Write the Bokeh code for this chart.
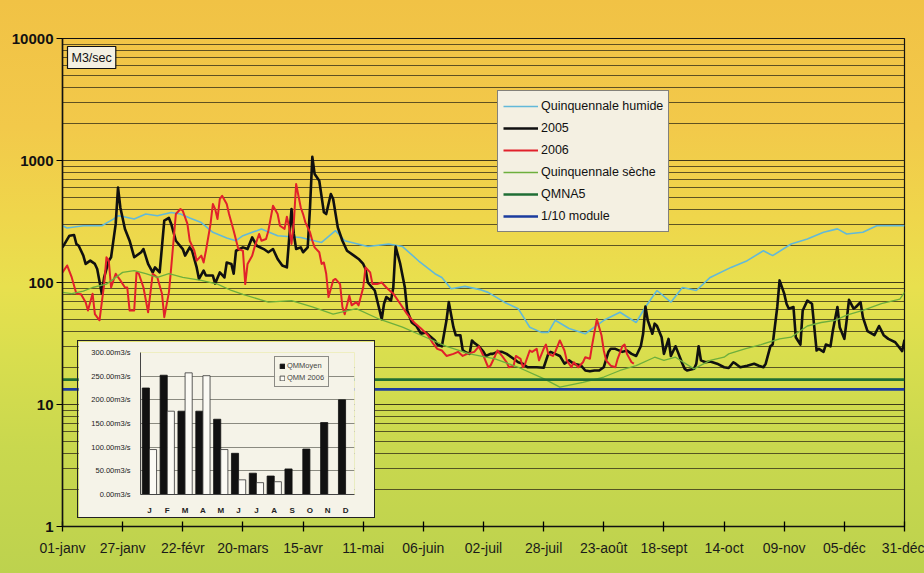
from bokeh.plotting import figure
from bokeh.models import (Range1d, FixedTicker, NumeralTickFormatter, Legend, LegendItem,
                          Label, GlobalInlineStyleSheet, ColumnDataSource, Span)
from bokeh.layouts import column
from bokeh.transform import dodge
from bokeh.embed import file_html
from bokeh.resources import INLINE

# ---------------- data (day of year, m3/s) ----------------
SERIES_2005 = [(0,194),(3,242),(5,245),(6,207),(7,200),(9,166),(10,142),(12,151),(14,142),(15,129),
    (17,81),(18,110),(20,151),(21,161),(23,302),(24,601),(25,412),(27,275),(29,220),(31,161),(34,177),
    (35,188),(37,142),(39,121),(40,133),(42,121),(44,321),(46,338),(47,302),(49,220),(52,188),(53,166),
    (55,194),(56,182),(58,133),(59,107),(61,125),(62,114),(65,114),(66,98),(68,121),(70,110),(71,146),
    (73,142),(74,118),(75,182),(78,194),(80,188),(82,234),(84,200),(87,188),(89,177),(91,188),(93,156),
    (95,138),(97,133),(99,400),(100,250),(101,188),(103,194),(104,177),(106,194),(107,412),(108,1072),
    (109,774),(111,683),(113,376),(114,364),(116,531),(117,483),(119,283),(121,220),(123,182),(126,166),
    (128,156),(130,142),(131,129),(132,100),(133,95),(135,86),(138,50),(139,67),(140,76),(142,71),
    (143,91),(144,197),(146,142),(148,91),(149,59),(151,47),(153,44),(155,38),(157,39),(161,33.5),
    (162,31),(164,30),(166,49),(167,69),(169,43),(170,37),(172,37),(173,28),(174,27),(176,26),(177,33.5),
    (178,32),(180,30),(182,27),(183,25),(185,26),(186,26),(188,27),(190,27),(192,26),(195,23.7),
    (197,22.2),(199,21.6),(201,20.2),(203,20.2),(205,20.2),(208,20),(210,26),(211,27),(213,26),(215,25),
    (217,21.6),(219,23),(221,21.6),(224,21),(226,19),(228,18.7),(230,19),(232,19),(234,20.2),(236,27),
    (237,28.6),(239,28.6),(242,27),(244,27.7),(246,26),(248,25),(250,30),(251,38),(252,63.5),(253,49),
    (255,38),(256,46),(257,44),(259,35.6),(260,26),(262,34.5),(263,25),(265,30),(266,27),(268,21.6),
    (269,19.6),(270,19),(273,19.6),(274,21.6),(275,30),(276,23),(278,22.2),(280,22.5),(283,21.6),
    (286,20.2),(288,19.9),(290,22.2),(291,21.6),(293,20.2),(296,20.8),(299,21.6),(301,20.8),(303,20.2),
    (304,21.6),(306,30),(307,31),(309,63),(310,104),(312,81),(313,67),(314,61),(316,63),(317,35.6),
    (319,31),(320,59),(322,71),(324,67),(325,43),(326,27.7),(327,28.6),(329,27),(330,31),(332,30),
    (333,40),(335,63),(336,43),(338,34.5),(339,49),(340,72),(342,61),(343,63),(345,69),(346,52),(348,40),
    (351,37),(353,44),(355,37),(357,34.5),(360,32.4),(363,27.4),(364,34)]

SERIES_2006 = [(0,121),(2,138),(4,110),(6,81),(8,80),(10,69),(11,59),(13,81),(14,55),(16,49),(18,97),
    (19,161),(20,151),(21,91),(23,118),(25,104),(27,91),(28,91),(29,59),(31,59),(32,121),(33,118),(35,91),
    (37,57),(39,118),(41,110),(43,81),(44,52),(46,83),(47,133),(48,220),(49,364),(51,400),(52,387),
    (54,302),(55,220),(57,182),(58,151),(60,166),(61,146),(62,182),(64,302),(65,440),(66,400),(67,331),
    (68,483),(69,514),(71,440),(72,364),(74,266),(76,188),(78,182),(79,97),(80,142),(82,166),(83,194),
    (85,250),(86,220),(88,227),(89,266),(91,426),(93,364),(94,292),(96,275),(97,346),(98,283),(99,207),
    (100,311),(101,641),(103,412),(104,364),(105,311),(107,258),(108,220),(109,194),(111,177),(112,142),
    (113,146),(114,118),(115,76),(117,104),(118,107),(120,97),(121,63),(122,55),(124,78),(125,65),
    (127,69),(128,65),(130,91),(131,133),(133,121),(134,97),(136,97),(138,100),(140,91),(143,81),
    (146,67),(149,55),(152,47),(155,42),(158,37),(160,32),(162,28.6),(164,27.7),(166,25),(169,26),
    (171,27),(173,25),(175,26),(178,27),(180,30),(182,25),(184,20.2),(185,20.8),(187,25),(188,27.7),
    (190,25),(192,22.2),(193,20.2),(195,20.8),(196,25),(198,23.7),(199,20.2),(200,21.6),(202,27.7),
    (203,27),(205,28.6),(206,23),(208,28.6),(209,31),(210,26),(212,25),(213,27),(215,33.5),(217,27.7),
    (218,23),(220,20.2),(221,22.2),(223,20.2),(225,22.2),(226,24.4),(228,23.7),(229,31),(231,50),
    (233,37),(234,27.7),(235,23),(237,20.8),(239,20.2),(240,23.7),(242,30),(243,31),(244,26),(246,22.2),
    (247,21.6)]

QUINQ_HUMIDE = [(0,292),(2,280),(9,292),(17,292),(22,331),(24,352),(26,348),(31,331),(36,364),(41,352),
    (47,375),(51,364),(55,338),(60,310),(65,258),(71,232),(75,220),(78,242),(84,266),(86,275),(93,242),
    (103,234),(112,213),(118,266),(122,220),(132,197),(141,207),(147,197),(154,150),(161,118),(164,110),
    (168,89),(174,93),(181,87),(184,83),(191,69),(197,61),(202,43),(207,39),(210,39),(213,49),(219,42),
    (226,38),(234,49),(241,57),(248,47),(252,63),(257,86),(263,69),(268,91),(274,86),(280,110),(289,133),
    (296,151),(303,182),(307,166),(315,207),(322,227),(329,258),(335,275),(339,250),(346,258),(352,292),
    (364,292)]

QUINQ_SECHE = [(0,83),(4,81),(9,85),(13,91),(19,97),(26,121),(31,125),(36,118),(41,110),(46,118),
    (52,110),(60,104),(67,97),(73,86),(78,80),(89,69),(99,71),(108,63),(117,55),(127,61),(137,50),
    (147,43),(157,35.6),(166,30),(176,26),(187,23.7),(197,20.2),(208,16.3),(215,13.9),(225,15.2),
    (234,16.8),(241,19),(248,20.8),(256,24.4),(260,23),(265,24.4),(273,19.6),(280,23),(286,24.4),
    (288,26),(295,28.6),(302,31),(310,34.5),(315,35.6),(322,44),(328,47),(334,49),(339,54),(346,59),
    (354,67),(362,73),(364,83)]

QMNA5 = 16.0
MODULE_10 = 13.3

TICK_DAYS = [0, 26, 52, 78, 104, 130, 156, 182, 208, 234, 260, 286, 312, 338, 364]
TICK_LABELS = ["01-janv", "27-janv", "22-févr", "20-mars", "15-avr", "11-mai", "06-juin", "02-juil",
               "28-juil", "23-août", "18-sept", "14-oct", "09-nov", "05-déc", "31-déc"]
Y_TICKS = [1, 10, 100, 1000, 10000]

MONTHS = ["J", "F", "M", "A", "M", "J", "J", "A", "S", "O", "N", "D"]
QM_MOYEN = [225, 252, 176, 176, 159, 87, 45, 39, 54, 96, 152, 200]
QMM_2006 = [95, 176, 257, 251, 95, 31, 25, 27]
INSET_TICKS = [0, 50, 100, 150, 200, 250, 300]

FONT = "Liberation Sans"

def unzip(pairs):
    return [a for a, _ in pairs], [b for _, b in pairs]

bg = GlobalInlineStyleSheet(css="""
html, body { margin:0; padding:0; overflow:hidden; }
html { background: linear-gradient(180deg, #F1C245 0%, #F2C94A 22%, #EFD64B 38%, #E8E04E 50%,
        #D9DE4E 62%, #C9D84E 78%, #BDD24E 100%); min-height:100%; }
""")

# ---------------- main chart ----------------
p = figure(width=924, height=573, y_axis_type="log",
           x_range=Range1d(TICK_DAYS[0], TICK_DAYS[-1]), y_range=Range1d(Y_TICKS[0], Y_TICKS[-1]),
           output_backend="svg", toolbar_location=None,
           min_border_left=62, min_border_right=20, min_border_top=38, min_border_bottom=47)
p.background_fill_alpha = 0
p.border_fill_alpha = 0
p.outline_line_color = "#111111"
p.outline_line_width = 1.2
p.stylesheets = [bg]

minor = [m * d for d in (1, 10, 100, 1000) for m in range(2, 10)]
p.yaxis.ticker = FixedTicker(ticks=Y_TICKS, minor_ticks=minor)
p.yaxis.formatter = NumeralTickFormatter(format="0")
p.yaxis.major_label_text_font = FONT
p.yaxis.major_label_text_font_style = "bold"
p.yaxis.major_label_text_font_size = "15px"
p.yaxis.major_label_text_color = "#111111"
p.yaxis.major_tick_out = 6
p.yaxis.major_tick_in = 0
p.yaxis.minor_tick_line_color = None
p.yaxis.axis_line_color = "#111111"
p.yaxis.axis_line_width = 1.5
p.yaxis.major_label_standoff = 3

p.xaxis.ticker = FixedTicker(ticks=TICK_DAYS)
p.xaxis.major_label_overrides = {d: l for d, l in zip(TICK_DAYS, TICK_LABELS)}
p.xaxis.major_label_text_font = FONT
p.xaxis.major_label_text_font_size = "14px"
p.xaxis.major_label_text_color = "#1a1a1a"
p.xaxis.major_tick_out = 5
p.xaxis.major_tick_in = 5
p.xaxis.major_tick_line_width = 1.3
p.xaxis.minor_tick_line_color = None
p.xaxis.axis_line_color = "#111111"
p.xaxis.axis_line_width = 1.5
p.xaxis.major_label_standoff = 8

p.xgrid.grid_line_color = None
p.ygrid.grid_line_color = "#2E2814"
p.ygrid.grid_line_alpha = 0.9
p.ygrid.grid_line_width = 1.2
p.ygrid.minor_grid_line_color = "#2E2814"
p.ygrid.minor_grid_line_alpha = 0.75
p.ygrid.minor_grid_line_width = 1

dh, vh = unzip(QUINQ_HUMIDE)
d5, v5 = unzip(SERIES_2005)
d6, v6 = unzip(SERIES_2006)
ds, vs = unzip(QUINQ_SECHE)

r_h = p.line(dh, vh, line_color="#62B9D9", line_width=1.6)
r_5 = p.line(d5, v5, line_color="#101010", line_width=2.6, line_join="round")
r_6 = p.line(d6, v6, line_color="#E1212B", line_width=2.0, line_join="round")
r_s = p.line(ds, vs, line_color="#6DAF3C", line_width=1.3)
r_q = p.line(x=[TICK_DAYS[0], TICK_DAYS[-1]], y=[QMNA5, QMNA5], line_color="#1F6E34", line_width=2.6)
r_m = p.line(x=[TICK_DAYS[0], TICK_DAYS[-1]], y=[MODULE_10, MODULE_10], line_color="#1B3C9E", line_width=2.6)

legend = Legend(items=[
    LegendItem(label="Quinquennale humide", renderers=[r_h]),
    LegendItem(label="2005", renderers=[r_5]),
    LegendItem(label="2006", renderers=[r_6]),
    LegendItem(label="Quinquennale sèche", renderers=[r_s]),
    LegendItem(label="QMNA5", renderers=[r_q]),
    LegendItem(label="1/10 module", renderers=[r_m]),
], location=(435, 294))
legend.background_fill_color = "#F4F0E2"
legend.background_fill_alpha = 1
legend.border_line_color = "#111111"
legend.border_line_width = 1.2
legend.label_text_font = FONT
legend.label_text_font_size = "12.5px"
legend.label_text_color = "#111111"
legend.glyph_width = 35
legend.glyph_height = 20
legend.label_height = 20
legend.label_standoff = 3
legend.padding = 5
legend.spacing = 2
legend.margin = 0
p.add_layout(legend, "center")

unit = Label(x=5, y=458, x_units="screen", y_units="screen", text="M3/sec",
             text_font=FONT, text_font_size="12.5px", text_color="#111111",
             background_fill_color="#F4F0E2", border_line_color="#111111", border_line_width=1.2,
             padding=4)
p.add_layout(unit)

# ---------------- inset bar chart ----------------
inset = figure(width=296, height=176, x_range=Range1d(-0.5, len(MONTHS) - 0.5),
               y_range=Range1d(INSET_TICKS[0], INSET_TICKS[-1]),
               output_backend="svg", toolbar_location=None,
               min_border_left=50, min_border_right=3, min_border_top=11, min_border_bottom=20,
               background_fill_color="#F5F3E8", border_fill_color="#F5F3E8",
               styles={"position": "absolute", "left": "78px", "top": "341px",
                       "outline": "1px solid #222"})
inset.outline_line_color = None
src_m = ColumnDataSource(dict(idx=list(range(len(QM_MOYEN))), v=QM_MOYEN))
src_6 = ColumnDataSource(dict(idx=list(range(len(QMM_2006))), v=QMM_2006))
b1 = inset.vbar(x=dodge("idx", -0.2, range=inset.x_range), top="v", width=0.4, source=src_m,
                fill_color="#111111", line_color="#111111", line_width=0.8)
b2 = inset.vbar(x=dodge("idx", 0.2, range=inset.x_range), top="v", width=0.4, source=src_6,
                fill_color="#FBFAF4", line_color="#333333", line_width=0.8)
inset.yaxis.ticker = FixedTicker(ticks=INSET_TICKS)
inset.yaxis.major_label_overrides = {t: f"{t:.2f}m3/s" for t in INSET_TICKS}
inset.yaxis.major_label_text_font = FONT
inset.yaxis.major_label_text_font_size = "7.5px"
inset.yaxis.major_label_text_color = "#222222"
inset.yaxis.major_tick_line_color = None
inset.yaxis.minor_tick_line_color = None
inset.yaxis.axis_line_color = "#444444"
inset.yaxis.major_label_standoff = 4
inset.xaxis.ticker = FixedTicker(ticks=list(range(len(MONTHS))))
inset.xaxis.major_label_overrides = {i: m for i, m in enumerate(MONTHS)}
inset.xaxis.major_label_text_font = FONT
inset.xaxis.major_label_text_font_size = "8px"
inset.xaxis.major_label_text_font_style = "bold"
inset.xaxis.major_label_text_color = "#222222"
inset.xaxis.major_tick_line_color = None
inset.xaxis.minor_tick_line_color = None
inset.xaxis.axis_line_color = "#444444"
inset.xaxis.major_label_standoff = 5
inset.xgrid.grid_line_color = None
inset.ygrid.grid_line_color = "#8A8A80"
inset.ygrid.grid_line_width = 1

ileg = Legend(items=[LegendItem(label="QMMoyen", renderers=[b1]),
                     LegendItem(label="QMM 2006", renderers=[b2])], location=(134, 107))
ileg.label_text_font = FONT
ileg.label_text_font_size = "7.5px"
ileg.glyph_width = 6
ileg.glyph_height = 6
ileg.label_height = 9
ileg.label_standoff = 2
ileg.padding = 4
ileg.spacing = 3
ileg.margin = 0
ileg.border_line_color = "#222222"
ileg.background_fill_color = "#F5F3E8"
inset.add_layout(ileg, "center")

layout = column(p, inset)
open("out.html", "w").write(file_html(layout, INLINE))
